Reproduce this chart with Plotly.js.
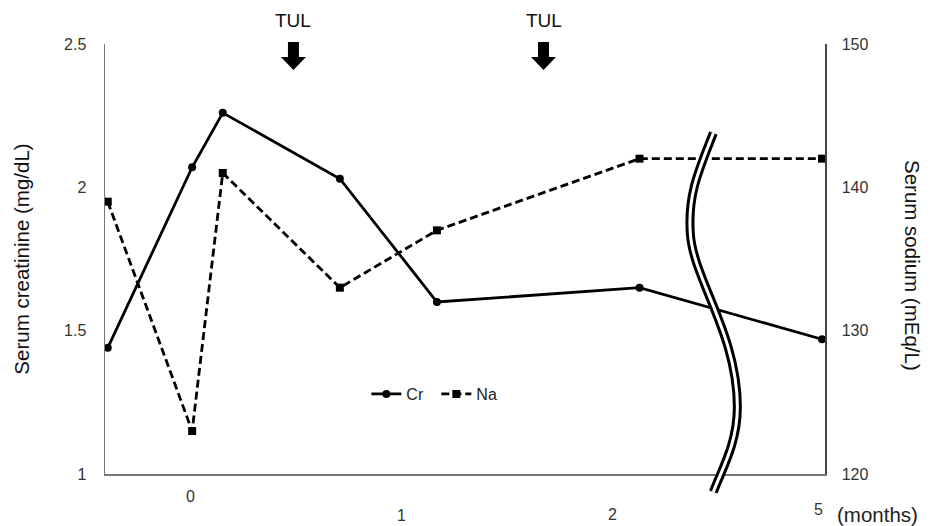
<!DOCTYPE html>
<html><head><meta charset="utf-8">
<script src="https://cdn.plot.ly/plotly-3.0.1.min.js"></script>
<style>html,body{margin:0;padding:0;background:#fff}#chart{width:932px;height:526px}</style>
</head><body><div id="chart"></div>
<script>
// Time axis (months, linear segment; last point sits after an axis break and is labelled "5")
const months = [-0.39, 0.01, 0.155, 0.71, 1.17, 2.13, 2.995];
const creatinine = [1.44, 2.07, 2.26, 2.03, 1.60, 1.65, 1.47];   // mg/dL
const sodium = [139, 123, 141, 133, 137, 142, 142];                // mEq/L
const xTickVals = [0, 1, 2, 2.98];
const xTickText = ['0', '1', '2', '5'];
const crTickVals = [1, 1.5, 2, 2.5];
const crTickText = ['1', '1.5', '2', '2.5'];
const naTickVals = [120, 130, 140, 150];
const tulTimes = [0.49, 1.675];
const breakAt = 2.48;

const FONT = 'Liberation Sans, Arial, Helvetica, sans-serif';
const xTickShift = [-22, -41, -40, -35];

const traces = [
  {x: months, y: creatinine, name: 'Cr', type: 'scatter', mode: 'lines+markers',
   line: {color: '#000', width: 2.8}, marker: {symbol: 'circle', size: 8, color: '#000'}, yaxis: 'y'},
  {x: months, y: sodium, name: 'Na', type: 'scatter', mode: 'lines+markers',
   line: {color: '#000', width: 2.8, dash: '8px,4px'}, marker: {symbol: 'square', size: 8, color: '#000'}, yaxis: 'y2'}
];

const annotations = [];
xTickVals.forEach((v, i) => annotations.push({
  x: v, xref: 'x', y: 0, yref: 'paper', text: xTickText[i], showarrow: false,
  yanchor: 'middle', yshift: xTickShift[i], font: {family: FONT, size: 16, color: '#333'}
}));
annotations.push({x: 1, xref: 'paper', y: 0, yref: 'paper', text: '(months)', showarrow: false,
  xanchor: 'left', xshift: 10, yanchor: 'middle', yshift: -40, font: {family: FONT, size: 20.5, color: '#222'}});
tulTimes.forEach(t => annotations.push({
  x: t, xref: 'x', y: 1, yref: 'paper', text: 'TUL', showarrow: false,
  yanchor: 'middle', yshift: 24, font: {family: FONT, size: 19, color: '#111'}
}));
// right axis title, reading top-to-bottom
annotations.push({x: 1, xref: 'paper', y: 0.486, yref: 'paper', text: 'Serum sodium (mEq/L)',
  showarrow: false, textangle: 90, xanchor: 'center', yanchor: 'middle', xshift: 88,
  font: {family: FONT, size: 20.5, color: '#111'}});

const shapes = [];
tulTimes.forEach(t => shapes.push({
  type: 'path', xref: 'x', yref: 'paper', xsizemode: 'pixel', ysizemode: 'pixel',
  xanchor: t, yanchor: 1,
  path: 'M-5.5,2 L5.5,2 L5.5,-13 L12.5,-13 L0,-26 L-12.5,-13 L-5.5,-13 Z',
  fillcolor: '#000', line: {width: 0}
}));
const breakPath = 'M0,341 C-14,305 -26,280 -23,240 C-20,195 24,140 24,67 C24,30 8,4 0,-18';
shapes.push({type: 'path', xref: 'x', yref: 'paper', xsizemode: 'pixel', ysizemode: 'pixel',
  xanchor: breakAt, yanchor: 0, path: breakPath, line: {color: '#000', width: 9}});
shapes.push({type: 'path', xref: 'x', yref: 'paper', xsizemode: 'pixel', ysizemode: 'pixel',
  xanchor: breakAt, yanchor: 0, path: breakPath, line: {color: '#fff', width: 3}});

const layout = {
  width: 932, height: 526,
  margin: {l: 105, r: 107, t: 44, b: 52},
  paper_bgcolor: '#fff', plot_bgcolor: '#fff',
  font: {family: FONT, size: 16, color: '#333'},
  showlegend: true,
  legend: {orientation: 'h', x: 0.363, y: 0.186, xanchor: 'left', yanchor: 'middle',
    entrywidth: 25, entrywidthmode: 'pixels',
    bgcolor: 'rgba(0,0,0,0)', font: {family: FONT, size: 16, color: '#222'}},
  xaxis: {range: [-0.403, 3.009], showline: true, linecolor: '#777', linewidth: 1.5,
    showgrid: false, zeroline: false, showticklabels: false, ticks: '', fixedrange: true},
  yaxis: {range: [1, 2.5], tickvals: crTickVals, ticktext: crTickText, showline: true,
    linecolor: '#777', linewidth: 1.5, showgrid: false, zeroline: false, ticks: '',
    ticklabelstandoff: 14, tickfont: {family: FONT, size: 16, color: '#333'},
    title: {text: 'Serum creatinine (mg/dL)', standoff: 29, font: {family: FONT, size: 20.5, color: '#111'}},
    automargin: false, fixedrange: true},
  yaxis2: {range: [120, 150], tickvals: naTickVals, overlaying: 'y', side: 'right', showline: true,
    linecolor: '#444', linewidth: 1.5, showgrid: false, zeroline: false, ticks: '',
    ticklabelstandoff: 12, tickfont: {family: FONT, size: 16, color: '#333'},
    automargin: false, fixedrange: true},
  annotations: annotations,
  shapes: shapes,
  hovermode: false
};

Plotly.newPlot('chart', traces, layout, {displayModeBar: false, staticPlot: true});
</script></body></html>
